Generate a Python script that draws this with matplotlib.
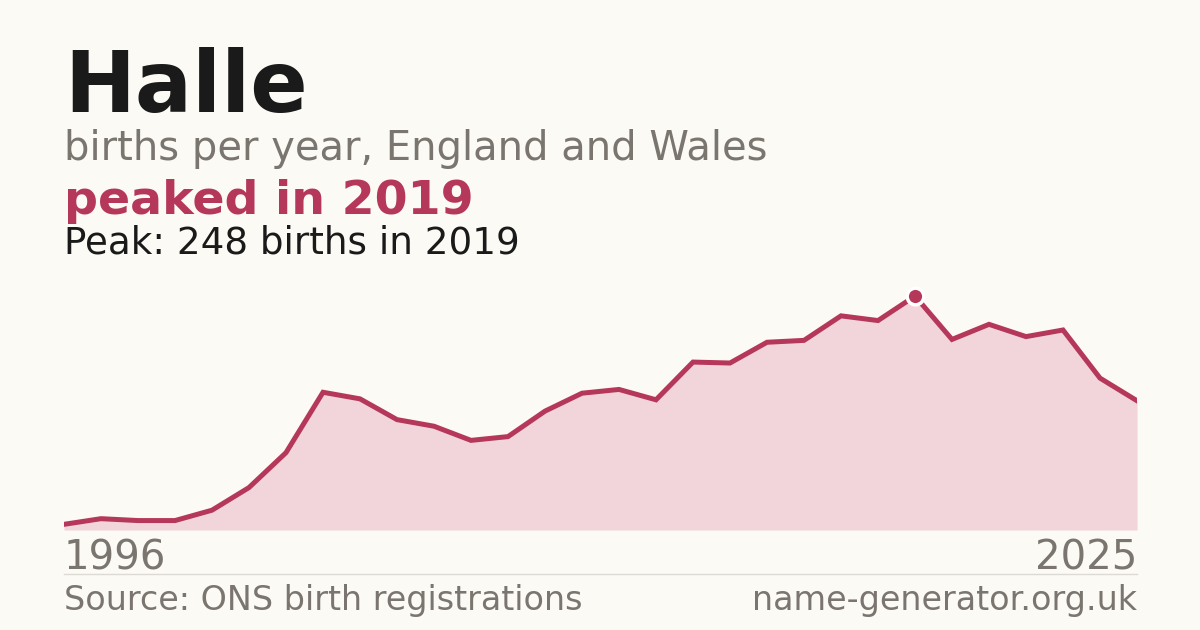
import matplotlib
matplotlib.use("Agg")
import matplotlib.pyplot as plt

matplotlib.rcParams["font.family"] = ["DejaVu Sans"]

years = list(range(1996, 2026))
births = [6, 12, 10, 10, 21, 45, 82, 146, 139, 117, 110, 95, 99, 126, 145,
          149, 138, 178, 177, 199, 201, 227, 222, 248, 202, 218, 205, 212, 161, 137]
peak_year = 2019
peak_value = 248

BG = "#fbfaf5"
RED = "#b5385a"
FILL = "#f2d5da"
GREY = "#7a756e"
DARK = "#1a1a1a"

W, H = 1200, 630
fig = plt.figure(figsize=(W / 100, H / 100), dpi=100, facecolor=BG)

# chart area: x 64..1137, y 280..530 px
ax = fig.add_axes([64 / W, 1 - 530 / H, (1137 - 64) / W, 250 / H])
ax.set_facecolor(BG)
ax.fill_between(years, births, 0, color=FILL, linewidth=0)
ax.plot(years, births, color=RED, linewidth=3.6, solid_joinstyle="miter")
ax.plot([peak_year], [peak_value], marker="o", markersize=12, color=RED,
        markeredgecolor="white", markeredgewidth=2.5, zorder=5, clip_on=False)
ax.set_xlim(years[0], years[-1])
ax.set_ylim(0, 265)
ax.axis("off")

# header text
fig.text(64 / W, 1 - 112 / H, "Halle", fontsize=61, fontweight="bold", color=DARK)
fig.text(64 / W, 1 - 160 / H, "births per year, England and Wales", fontsize=28.8, color=GREY)
fig.text(64 / W, 1 - 214 / H, "peaked in 2019", fontsize=34.2, fontweight="bold", color=RED)
fig.text(64 / W, 1 - 253 / H, f"Peak: {peak_value} births in {peak_year}", fontsize=26.8, color=DARK)

# axis year labels
fig.text(64 / W, 1 - 569 / H, str(years[0]), fontsize=29, color=GREY)
fig.text(1137 / W, 1 - 569 / H, str(years[-1]), fontsize=29, color=GREY, ha="right")

# separator
fig.add_artist(plt.Line2D([64 / W, 1137 / W], [1 - 574 / H, 1 - 574 / H],
                          color="#dddad3", linewidth=1))

# footer
fig.text(64 / W, 1 - 610 / H, "Source: ONS birth registrations", fontsize=24, color=GREY)
fig.text(1137 / W, 1 - 610 / H, "name-generator.org.uk", fontsize=24, color=GREY, ha="right")

fig.savefig("out.png", dpi=100, facecolor=BG)
